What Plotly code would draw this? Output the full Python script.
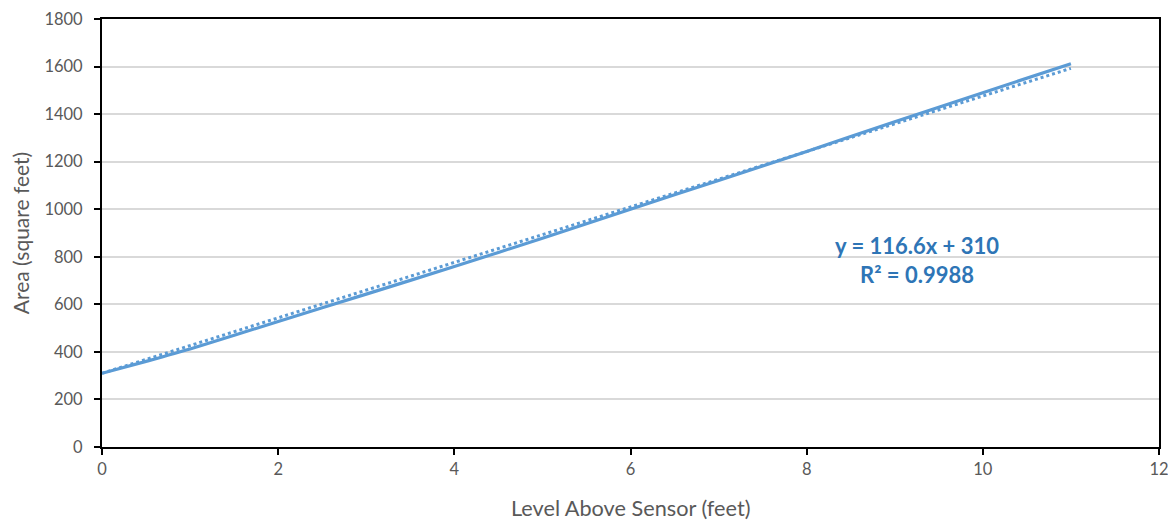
import plotly.graph_objects as go

# Data
level_ft = [0, 0.5, 1, 2, 3, 4, 5, 6, 7, 8, 9, 10, 11]
area_sqft = [310, 360, 412, 528, 643, 759, 878, 1000, 1121, 1243, 1368, 1490, 1612]

# Linear trendline as labelled on the chart
trend_slope = 116.6
trend_intercept = 310
trend_x = [0, 11]
trend_y = [trend_intercept + trend_slope * x for x in trend_x]

x_ticks = [0, 2, 4, 6, 8, 10, 12]
y_ticks = [0, 200, 400, 600, 800, 1000, 1200, 1400, 1600, 1800]

x_title = "Level Above Sensor (feet)"
y_title = "Area (square feet)"

BLUE = "#5B9BD5"
GREY = "#595959"
FONT = "Lato"

fig = go.Figure()
fig.add_trace(go.Scatter(x=trend_x, y=trend_y, mode="lines",
                         line=dict(color=BLUE, width=3, dash="dot"),
                         showlegend=False, hoverinfo="skip"))
fig.add_trace(go.Scatter(x=level_ft, y=area_sqft, mode="lines",
                         line=dict(color=BLUE, width=3.2, shape="spline", smoothing=0.6),
                         showlegend=False))

fig.add_annotation(x=9.25, y=788, xref="x", yref="y",
                   text="<b>y = 116.6x + 310</b><br><b>R² = 0.9988</b>",
                   showarrow=False, align="center",
                   font=dict(family=FONT, size=22, color="#2E75B6"))

# x-axis title placed below the tick labels
fig.add_annotation(x=0.5, y=0, xref="paper", yref="paper",
                   xanchor="center", yanchor="middle", yshift=-61,
                   text=x_title, showarrow=False,
                   font=dict(family=FONT, size=21.7, color=GREY))

axis_common = dict(showline=True, linecolor="black", linewidth=2, mirror=True,
                   ticks="outside", ticklen=6, tickcolor="black", tickwidth=2,
                   tickfont=dict(family=FONT, size=16.5, color=GREY),
                   ticklabeloverflow="allow",
                   zeroline=False, automargin=False)

fig.update_xaxes(range=[0, 12], tickvals=x_ticks, showgrid=False,
                 ticklabelstandoff=0, **axis_common)
fig.update_yaxes(range=[0, 1800], tickvals=y_ticks, showgrid=True,
                 gridcolor="#D9D9D9", gridwidth=1.5,
                 title=dict(text=y_title,
                            font=dict(family=FONT, size=21, color=GREY)),
                 ticklabelstandoff=8, **axis_common)

# The page body has an 8px margin, so the figure is sized and placed to fit the window
fig.update_layout(width=1168, height=515,
                  margin=dict(l=94, r=17, t=11, b=76, autoexpand=False),
                  plot_bgcolor="white", paper_bgcolor="white",
                  font=dict(family=FONT))

fig.write_html("out.html")
